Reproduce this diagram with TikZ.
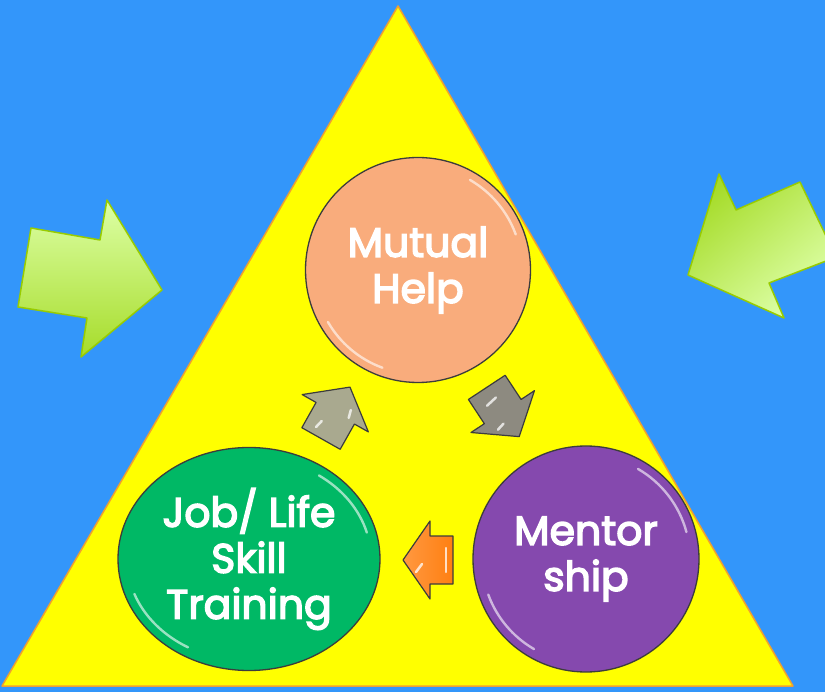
\documentclass[tikz,border=0pt]{standalone}
\usepackage{fontspec}
\setmainfont{Poppins}
\newfontfamily\lblfont{Poppins}[FakeBold=3.5]
\usetikzlibrary{shapes.geometric}
\definecolor{bgblue}{HTML}{3396FA}
\definecolor{triyel}{HTML}{FFFF00}
\definecolor{triedge}{HTML}{F0A030}
\definecolor{peach}{HTML}{F9AC7C}
\definecolor{purp}{HTML}{8549AE}
\definecolor{grn}{HTML}{00B865}
\definecolor{rim}{HTML}{3C3C3C}
\definecolor{limeedge}{HTML}{99CC00}
\definecolor{limelight}{HTML}{DDFFA6}
\definecolor{limedark}{HTML}{A6DC2A}
\definecolor{grayA}{HTML}{A9A98F}
\definecolor{grayB}{HTML}{8D8A80}
\definecolor{orng}{HTML}{FF7F11}
\tikzset{
  bubble/.style={draw=rim, line width=1.3pt, inner sep=0pt, align=center,
    text=white, font=\fontsize{41}{46}\lblfont},
  blockarrow/.style={draw=rim, line width=1.2pt, line join=round},
  gloss/.style={white, opacity=0.6, line width=2.4pt, line cap=round},
  shine/.style={white, opacity=0.75, line width=2.5pt, line cap=round},
}
\newcommand{\arrowshape}{(29.5,0) -- (-0.5,38) -- (-0.5,22) -- (-29.5,22) -- (-29.5,-22) -- (-0.5,-22) -- (-0.5,-38) -- cycle}
\begin{document}
\begin{tikzpicture}[x=1pt,y=-1pt]
\useasboundingbox (0,0) rectangle (825,692);
\fill[bgblue] (0,0) rectangle (825,692);
% triangle
\filldraw[fill=triyel, draw=triedge, line width=1.5pt, line join=round]
  (398,6) -- (793,686) -- (2,686) -- cycle;
% green side arrows
\shade[top color=limelight, bottom color=limedark, draw=limeedge, line width=1.5pt, line join=round]
  (31,228) -- (100,240) -- (107,200) -- (162,290) -- (81,357) -- (87,318) -- (18,307) -- cycle;
\shade[top color=limedark, bottom color=limelight, shading angle=40, draw=limeedge, line width=1.5pt, line join=round]
  (719,174) -- (736,210) -- (800,182) -- (826,236) -- (826,261) -- (769,283) -- (784,318) -- (688,275) -- cycle;
% circles
\node[bubble, circle, fill=peach, minimum size=225pt] (mutual) at (418,270) {Mutual\\Help};
\node[bubble, ellipse, fill=grn, minimum width=262pt, minimum height=223pt] (job) at (249,559) {Job/ Life\\Skill\\Training};
\node[bubble, circle, fill=purp, minimum size=226pt] (mentor) at (586,559) {Mentor\\ship};
% gloss highlights on circles
\draw[gloss] (mutual.center) ++(150:104) arc[start angle=150, end angle=110, radius=104];
\draw[gloss] (mutual.center) ++(-20:104) arc[start angle=-20, end angle=-60, radius=104];
\draw[gloss] (mentor.center) ++(160:104) arc[start angle=160, end angle=120, radius=104];
\draw[gloss] (mentor.center) ++(-15:104) arc[start angle=-15, end angle=-60, radius=104];
\draw[gloss] (job.center) ++(160:{122 and 102}) arc[start angle=160, end angle=120, x radius=122, y radius=102];
\draw[gloss] (job.center) ++(-15:{122 and 102}) arc[start angle=-15, end angle=-55, x radius=122, y radius=102];
% cycle arrows
\begin{scope}[shift={(335.5,412.8)}, rotate=60.6]
  \filldraw[blockarrow, fill=grayA] \arrowshape;
  \draw[shine] (10,12) -- (2,14);
  \draw[shine] (-14,-8) -- (-22,-10);
\end{scope}
\node[inner sep=0pt] (upArrow) at (335.5,412.8) {};
\begin{scope}[shift={(503,412)}, rotate=-56.6]
  \filldraw[blockarrow, fill=grayB] \arrowshape;
  \draw[shine] (-14,10) -- (-16,-2);
  \draw[shine] (12,14) -- (10,6);
\end{scope}
\node[inner sep=0pt] (downArrow) at (503,412) {};
\begin{scope}[shift={(428,560)}, rotate=180]
  \shade[blockarrow, left color=orng!80!white, right color=orng] (25,0) -- (-2,39) -- (-2,24) -- (-25,24) -- (-25,-24) -- (-2,-24) -- (-2,-39) -- cycle;
  \draw[shine] (-18,-12) -- (-18,12);
  \draw[shine] (12,-12) -- (6,-4);
\end{scope}
\node[inner sep=0pt] (leftArrow) at (428,560) {};
\end{tikzpicture}
\end{document}
